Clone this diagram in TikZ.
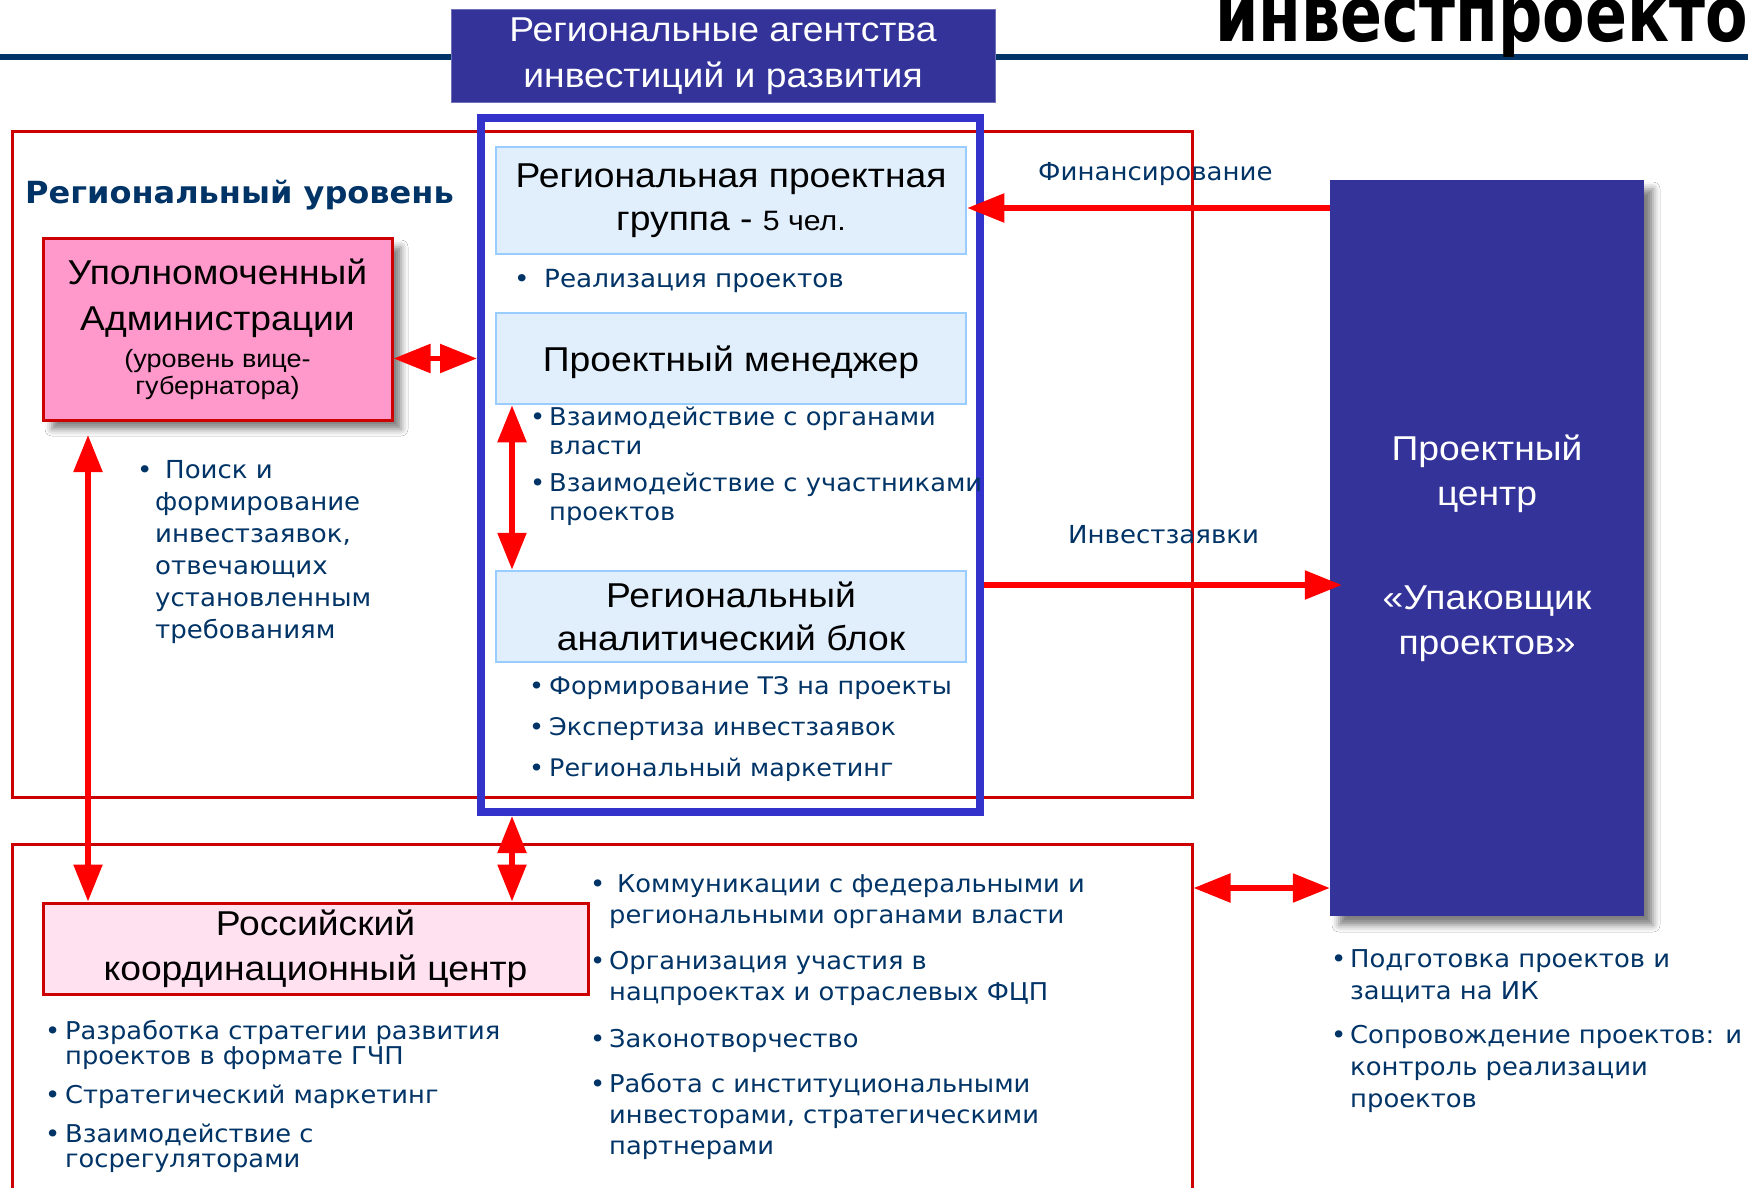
\documentclass[tikz,border=0pt]{standalone}
\usepackage{fontspec}
\setmainfont{Liberation Sans}[FakeStretch=1.08]
\newfontfamily\vfont{DejaVu Sans}[FakeStretch=1.05]
\usepackage{graphicx}
\usetikzlibrary{arrows.meta,shadows.blur}
\definecolor{navy}{HTML}{003366}
\definecolor{framered}{HTML}{CC0000}
\definecolor{frameblue}{HTML}{3333CC}
\definecolor{darkbox}{HTML}{333399}
\definecolor{lightbox}{HTML}{E1EFFD}
\definecolor{lightedge}{HTML}{99CCFF}
\definecolor{pinkbox}{HTML}{FF99CC}
\definecolor{palepink}{HTML}{FFE1F0}
\newlength\bulw
% first item of a list, and the next ones (with an optional gap)
\newcommand{\bulfirst}{\color{navy}\hangindent=\bulw\hangafter=1\spaceskip=0pt\xspaceskip=0pt\makebox[\bulw][l]{\textbullet}\ignorespaces}
\newcommand{\bul}[1][0pt]{\par\ifdim#1>0pt\vspace{#1}\fi\noindent\bulfirst}

\begin{document}
\begin{tikzpicture}[x=1pt,y=-1pt,
    arr/.style={red,line width=5.5pt,-{Triangle[length=37pt,width=28pt]}},
    dblarr/.style={red,line width=5.5pt,{Triangle[length=37pt,width=28pt]}-{Triangle[length=37pt,width=28pt]}},
    redframe/.style={draw=framered,line width=3pt,inner sep=0pt},
    lbox/.style={draw=lightedge,line width=2.5pt,fill=lightbox,minimum width=470pt,minimum height=91pt,inner sep=0pt,align=center},
    dbox/.style={fill=darkbox,text=white,inner sep=0pt,align=center},
    blist/.style 2 args={anchor=base west,inner sep=0pt,text width=600pt,font=\vfont\fontsize{#1}{#2}\selectfont},
    lbl/.style={text=navy,anchor=base west,inner sep=0pt,font=\vfont\fontsize{24.8}{25}\selectfont},
    softshadow/.style={blur shadow={shadow xshift=9pt,shadow yshift=-9pt,shadow blur radius=7pt,shadow opacity=50}}]
    % page
    \useasboundingbox (0,0) rectangle (1748,1188);
    \fill[white] (0,0) rectangle (1748,1188);
    % heading line and title
    \draw[navy,line width=6pt] (0,57) -- (1748,57);
    \node[anchor=base east,inner sep=0pt,font=\vfont\bfseries\fontsize{59}{59}\selectfont] (heading) at (1748,42) {\scalebox{1}[1.3]{инвестпроекто}};
    % agencies
    \node[dbox,draw=darkbox!70!white,line width=1pt,minimum width=544pt,minimum height=93pt,font=\fontsize{34.5}{46}\selectfont] (agency) at (723,56.5) {Региональные агентства\\инвестиций и развития};
    % frames
    \node[redframe,minimum width=1180pt,minimum height=665pt] (regframe) at (602,464.5) {};
    \node[redframe,minimum width=1180pt,minimum height=400pt] (rusframe) at (602,1044) {};
    \node[draw=frameblue,line width=8pt,minimum width=499pt,minimum height=694pt,inner sep=0pt] (bframe) at (730.5,465) {};
    \node[anchor=base west,inner sep=0pt,text=navy,font=\vfont\bfseries\fontsize{30.5}{30}\selectfont] (reglevel) at (25,203) {Региональный уровень};
    % boxes
    \node[redframe,fill=pinkbox,softshadow,minimum width=349pt,minimum height=182pt,align=center,font=\fontsize{34.5}{46}\selectfont] (upolnom) at (217.5,329) {Уполномоченный\\Администрации\\[-9pt]\fontsize{25}{27}\selectfont(уровень вице-\\[-19pt]\fontsize{25}{27}\selectfont губернатора)};
    \node[lbox,minimum height=107pt,font=\fontsize{34.5}{43}\selectfont] (rpg) at (731,200.5) {Региональная проектная\\группа - {\fontsize{28}{28}\selectfont 5 чел.}};
    \node[lbox,text depth=0pt,font=\fontsize{34.5}{35}\selectfont] (pm) at (731,358.5) {Проектный менеджер};
    \node[lbox,font=\fontsize{34.5}{43}\selectfont] (ral) at (731,616.5) {Региональный\\аналитический блок};
    \node[dbox,softshadow,minimum width=314pt,minimum height=736pt,font=\fontsize{34.5}{45}\selectfont] (pcenter) at (1487,548) {Проектный\\центр\\[59pt]«Упаковщик\\проектов»};
    \node[redframe,fill=palepink,minimum width=545pt,minimum height=91pt,align=center,font=\fontsize{34.5}{45}\selectfont] (rcc) at (315.5,948.5) {Российский\\координационный центр};
    % bullet lists
    \node[blist={25}{30}] (rpgtasks) at (514,287) {\setlength\bulw{30pt}\bulfirst Реализация проектов\par};
    \node[blist={24.5}{29}] (pmtasks) at (530,425) {\setlength\bulw{19pt}\bulfirst Взаимодействие с органами\newline власти\bul[8pt] Взаимодействие с участниками\newline проектов\par};
    \node[blist={24.2}{41}] (raltasks) at (529,694) {\setlength\bulw{20pt}\bulfirst Формирование ТЗ на проекты\bul Экспертиза инвестзаявок\bul Региональный маркетинг\par};
    \node[blist={24.8}{32}] (search) at (137,478) {\setlength\bulw{18pt}\bulfirst\hspace{10pt}Поиск и\newline формирование\newline инвестзаявок,\newline отвечающих\newline установленным\newline требованиям\par};
    \node[blist={24.5}{25}] (rcctasks) at (45,1039) {\setlength\bulw{20pt}\bulfirst Разработка стратегии развития\newline проектов в формате ГЧП\bul[14pt] Стратегический маркетинг\bul[14pt] Взаимодействие с\newline госрегуляторами\par};
    \node[blist={24.5}{31}] (fedtasks) at (590,892) {\setlength\bulw{19pt}\bulfirst\hspace{8pt}Коммуникации с федеральными и\newline региональными органами власти\bul[15pt] Организация участия в\newline нацпроектах и отраслевых ФЦП\bul[16pt] Законотворчество\bul[14pt] Работа с институциональными\newline инвесторами, стратегическими\newline партнерами\par};
    \node[blist={24.6}{32}] (pctasks) at (1331,967) {\setlength\bulw{19pt}\bulfirst Подготовка проектов и\newline защита на ИК\bul[12pt] Сопровождение проектов: и\newline контроль реализации\newline проектов\par};
    % arrow labels
    \node[lbl] (finlbl) at (1038,180) {Финансирование};
    \node[lbl] (invlbl) at (1068,543) {Инвестзаявки};
    % connectors
    \coordinate (fin) at (1150,208);
    \coordinate (inv) at (1150,585);
    \coordinate (rb) at (1260,888);
    \coordinate (lx) at (88,435);
    \coordinate (mx) at (512,0);
    \draw[dblarr] (upolnom.east |- pm.west) -- (bframe.west |- pm.west);
    \draw[dblarr] (lx) -- (lx |- rcc.north);
    \draw[dblarr] (pm.south -| mx) -- (ral.north -| mx);
    \draw[dblarr] (bframe.south -| mx) -- (rcc.north -| mx);
    \draw[arr] (pcenter.west |- fin) -- (rpg.east |- fin);
    \draw[arr] (bframe.east |- inv) -- ([xshift=12pt]pcenter.west |- inv);
    \draw[dblarr] (rusframe.east |- rb) -- (pcenter.west |- rb);
\end{tikzpicture}
\end{document}
